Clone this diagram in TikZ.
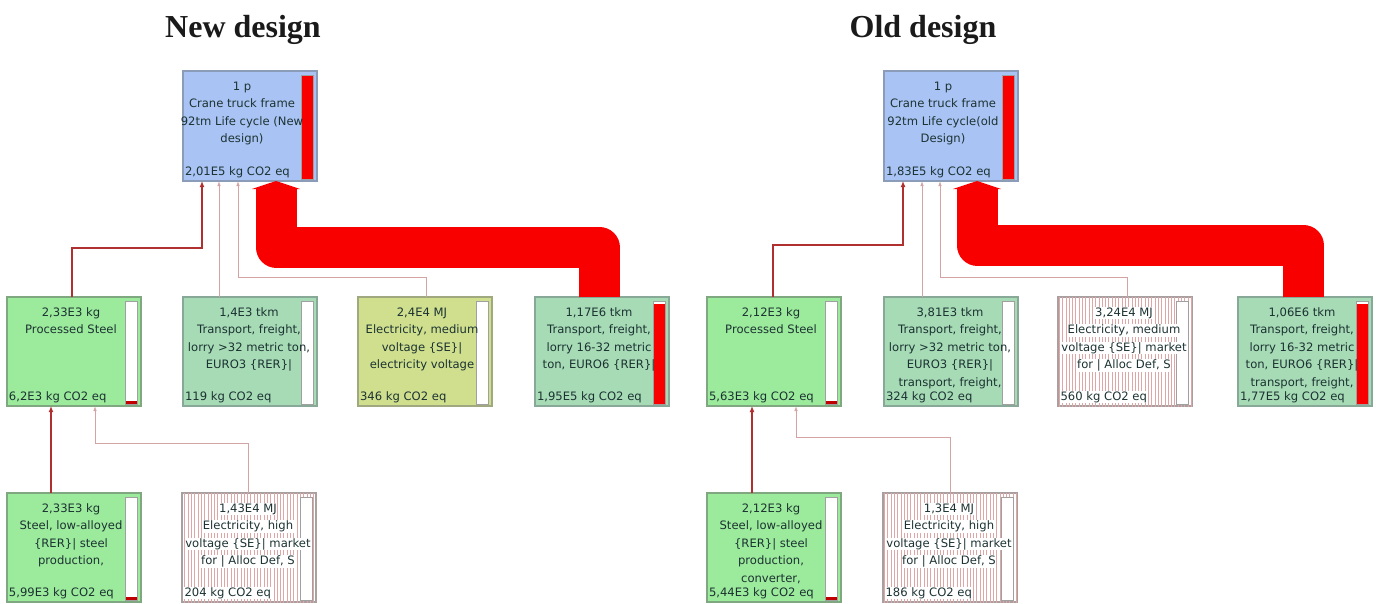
\documentclass[tikz,border=0pt]{standalone}
\usepackage{fontspec}
\setmainfont{Liberation Serif}
\newfontfamily\boxfont{DejaVu Sans}
\usetikzlibrary{arrows.meta,patterns.meta,calc}
\definecolor{topblue}{HTML}{A9C4F4}
\definecolor{bluebd}{HTML}{8A9CB8}
\definecolor{steelgreen}{HTML}{9CEB9C}
\definecolor{greenbd}{HTML}{80A880}
\definecolor{trgreen}{HTML}{A6DBB6}
\definecolor{trbd}{HTML}{88A898}
\definecolor{elecyellow}{HTML}{CFDF8E}
\definecolor{elbd}{HTML}{A0A880}
\definecolor{stbd}{HTML}{A8A0A0}
\definecolor{stripe}{HTML}{E0A6A6}
\definecolor{txtc}{HTML}{1C3232}
\definecolor{linkred}{HTML}{B03030}
\definecolor{linkpink}{HTML}{D4A4A4}
\definecolor{bandred}{HTML}{F80000}
\definecolor{barred}{HTML}{C00000}
\definecolor{bargray}{HTML}{A0A0A0}
\definecolor{titlec}{HTML}{1A1A1A}
\newcommand\wb[1]{{\setlength{\fboxsep}{0.6pt}\colorbox{white}{#1}}}
% name, x, y, style, text, bottom text, red fraction, bar colour, text shift
\newcommand\pbox[9]{%
  \node[#4] (#1) at (#2,#3) {};
  \fill[white] ([xshift=-16pt,yshift=2pt]#1.south east) rectangle ([xshift=-4pt,yshift=-4pt]#1.north east);
  \fill[#8] ([xshift=-16pt,yshift=2pt]#1.south east) rectangle ($([xshift=-4pt,yshift=2pt]#1.south east)!#7!([xshift=-4pt,yshift=-4pt]#1.north east)$);
  \draw[bargray, line width=0.8pt] ([xshift=-16pt,yshift=2pt]#1.south east) rectangle ([xshift=-4pt,yshift=-4pt]#1.north east);
  \node[txt, anchor=north] (#1-t) at ([xshift=#9,yshift=-6.75pt]#1.north) {\strut#5};
  \node[txt, align=left, anchor=base west] (#1-b) at ([xshift=2pt,yshift=6pt]#1.south west) {#6};
}
\begin{document}
\begin{tikzpicture}[x=1pt,y=-1pt,
  every node/.style={inner sep=0pt, outer sep=0pt},
  box/.style={line width=1.3pt, minimum width=134pt, minimum height=109pt, anchor=north west},
  topbox/.style={box, draw=bluebd, fill=topblue, minimum height=110pt},
  steelbox/.style={box, draw=greenbd, fill=steelgreen},
  trbox/.style={box, draw=trbd, fill=trgreen},
  elecbox/.style={box, draw=elbd, fill=elecyellow},
  stripebox/.style={box, draw=stbd, fill=white, postaction={pattern={Lines[angle=90,distance=3.3pt,line width=0.8pt]}, pattern color=stripe}},
  txt/.style={font=\boxfont\fontsize{11.6}{17.5}\selectfont, text=txtc, align=center},
  title/.style={font=\fontsize{32}{36}\selectfont\bfseries, text=titlec, anchor=base},
  link/.style={draw=linkpink, line width=0.8pt, -{Latex[length=5pt,width=3.5pt]}},
  mainlink/.style={draw=linkred, line width=1.5pt, -{Latex[length=6pt,width=5pt]}},
  band/.style={draw=bandred, line width=41pt, line join=round, -{Triangle[length=8pt,width=48pt]}}
]
\useasboundingbox[fill=white] (0,0) rectangle (1376,603);

\node[title] (tnew) at (243,37) {New design};
\node[title] (told) at (923,37) {Old design};

% ---------- New design ----------
\pbox{T}{183}{71}{topbox}{1 p\\Crane truck frame\\92tm Life cycle (New\\design)}{2,01E5 kg CO2 eq}{1}{bandred}{-8pt}
\pbox{A}{7}{297}{steelbox}{2,33E3 kg\\Processed Steel}{6,2E3 kg CO2 eq}{0.03}{barred}{-3pt}
\pbox{B}{183}{297}{trbox}{1,4E3 tkm\\Transport, freight,\\lorry >32 metric ton,\\EURO3 \{RER\}|}{119 kg CO2 eq}{0}{barred}{-1pt}
\pbox{C}{358}{297}{elecbox}{2,4E4 MJ\\Electricity, medium\\voltage \{SE\}|\\electricity voltage}{346 kg CO2 eq}{0}{barred}{-3pt}
\pbox{D}{535}{297}{trbox}{1,17E6 tkm\\Transport, freight,\\lorry 16-32 metric\\ton, EURO6 \{RER\}|}{1,95E5 kg CO2 eq}{0.97}{bandred}{-3pt}
\pbox{E}{7}{493}{steelbox}{2,33E3 kg\\Steel, low-alloyed\\\{RER\}| steel\\production,}{5,99E3 kg CO2 eq}{0.03}{barred}{-3pt}
\pbox{F}{182}{493}{stripebox}{\wb{1,43E4 MJ}\\\wb{Electricity, high}\\\wb{voltage \{SE\}| market}\\\wb{for | Alloc Def, S}}{\wb{204 kg CO2 eq}}{0}{barred}{-1pt}

\draw[band] ([xshift=64pt]D.north west) -- ++(0,-50) -| ([xshift=93pt]T.south west);
\draw[mainlink] ([xshift=65pt]A.north west) -- ++(0,-49) -| ([xshift=19pt]T.south west);
\draw[link] ([xshift=36pt]B.north west) -- ([xshift=36pt]T.south west);
\draw[link] ([xshift=68pt]C.north west) -- ++(0,-20) -| ([xshift=55pt]T.south west);
\draw[mainlink] ([xshift=44pt]E.north west) -- ([xshift=44pt]A.south west);
\draw[link] ([xshift=66pt]F.north west) -- ++(0,-50) -| ([xshift=88pt]A.south west);

% ---------- Old design ----------
\pbox{T2}{884}{71}{topbox}{1 p\\Crane truck frame\\92tm Life cycle(old\\Design)}{1,83E5 kg CO2 eq}{1}{bandred}{-8pt}
\pbox{A2}{707}{297}{steelbox}{2,12E3 kg\\Processed Steel}{5,63E3 kg CO2 eq}{0.03}{barred}{-3pt}
\pbox{B2}{884}{297}{trbox}{3,81E3 tkm\\Transport, freight,\\lorry >32 metric ton,\\EURO3 \{RER\}|\\transport, freight,}{324 kg CO2 eq}{0}{barred}{-1pt}
\pbox{C2}{1058}{297}{stripebox}{\wb{3,24E4 MJ}\\\wb{Electricity, medium}\\\wb{voltage \{SE\}| market}\\\wb{for | Alloc Def, S}}{\wb{560 kg CO2 eq}}{0}{barred}{-1pt}
\pbox{D2}{1238}{297}{trbox}{1,06E6 tkm\\Transport, freight,\\lorry 16-32 metric\\ton, EURO6 \{RER\}|\\transport, freight,}{1,77E5 kg CO2 eq}{0.97}{bandred}{-3pt}
\pbox{E2}{707}{493}{steelbox}{2,12E3 kg\\Steel, low-alloyed\\\{RER\}| steel\\production,\\converter,}{5,44E3 kg CO2 eq}{0.03}{barred}{-3pt}
\pbox{F2}{883}{493}{stripebox}{\wb{1,3E4 MJ}\\\wb{Electricity, high}\\\wb{voltage \{SE\}| market}\\\wb{for | Alloc Def, S}}{\wb{186 kg CO2 eq}}{0}{barred}{-1pt}

\draw[band] ([xshift=65pt]D2.north west) -- ++(0,-52) -| ([xshift=93pt]T2.south west);
\draw[mainlink] ([xshift=66pt]A2.north west) -- ++(0,-52) -| ([xshift=19pt]T2.south west);
\draw[link] ([xshift=38pt]B2.north west) -- ([xshift=38pt]T2.south west);
\draw[link] ([xshift=69pt]C2.north west) -- ++(0,-20) -| ([xshift=56pt]T2.south west);
\draw[mainlink] ([xshift=45pt]E2.north west) -- ([xshift=45pt]A2.south west);
\draw[link] ([xshift=67pt]F2.north west) -- ++(0,-56) -| ([xshift=89pt]A2.south west);
\end{tikzpicture}
\end{document}
